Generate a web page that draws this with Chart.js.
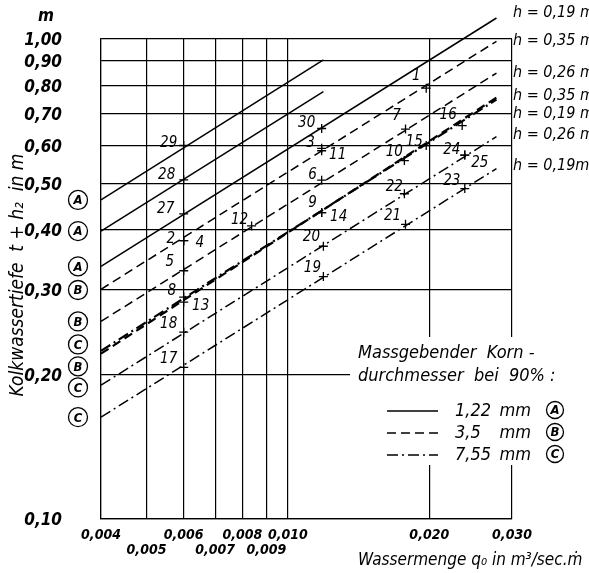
<!DOCTYPE html>
<html>
<head>
<meta charset="utf-8">
<script src="https://cdn.jsdelivr.net/npm/chart.js@4.4.1/dist/chart.umd.min.js"></script>
<style>
  html, body { margin: 0; padding: 0; background: #fff; }
  #wrap { width: 589px; height: 573px; position: relative; }
</style>
</head>
<body>
<div id="wrap"><canvas id="chart" width="589" height="573"></canvas></div>
<script>
// axis ticks
var xTicks = [0.004, 0.005, 0.006, 0.007, 0.008, 0.009, 0.010, 0.020, 0.030];
var xTickLabels = ['0,004', '0,005', '0,006', '0,007', '0,008', '0,009', '0,010', '0,020', '0,030'];
var xTickRow = [0, 1, 0, 1, 0, 1, 0, 0, 0];
var yTicks = [0.1, 0.2, 0.3, 0.4, 0.5, 0.6, 0.7, 0.8, 0.9, 1.0];
var yTickLabels = ['0,10', '0,20', '0,30', '0,40', '0,50', '0,60', '0,70', '0,80', '0,90', '1,00'];

// the nine lines (grain A/B/C, water height h), start and end
var lineGrain = ['A', 'A', 'A', 'B', 'B', 'B', 'C', 'C', 'C'];
var lineH = ['0,35', '0,26', '0,19', '0,35', '0,26', '0,19', '0,35', '0,26', '0,19'];
var lineStartQ = [0.004, 0.004, 0.004, 0.004, 0.004, 0.004, 0.004, 0.004, 0.004];
var lineStartT = [0.462, 0.398, 0.336, 0.301, 0.258, 0.221, 0.224, 0.190, 0.163];
var lineEndQ = [0.0119, 0.0119, 0.0278, 0.0278, 0.0278, 0.0278, 0.0278, 0.0278, 0.0278];
var lineEndT = [0.905, 0.777, 1.106, 0.989, 0.849, 0.755, 0.748, 0.626, 0.537];

// measured points
var pointIds = ['1', '2', '3', '4', '5', '6', '7', '8', '9', '10', '11', '12', '13', '14', '15',
                '16', '17', '18', '19', '20', '21', '22', '23', '24', '25', '27', '28', '29', '30'];
var pointQ = [0.0197, 0.006, 0.0118, 0.006, 0.006, 0.0118, 0.0178, 0.006, 0.0118, 0.0177, 0.0118, 0.00837, 0.006, 0.0118, 0.0197,
              0.0235, 0.006, 0.006, 0.0119, 0.0119, 0.0178, 0.0177, 0.0238, 0.0238, 0.0238, 0.006, 0.006, 0.006, 0.0118];
var pointT = [0.79, 0.38, 0.592, 0.38, 0.329, 0.508, 0.649, 0.29, 0.435, 0.558, 0.585, 0.408, 0.283, 0.435, 0.60,
              0.66, 0.207, 0.245, 0.32, 0.37, 0.411, 0.476, 0.488, 0.573, 0.573, 0.432, 0.509, 0.60, 0.651];

// circled grain letters at the left, right-hand h labels
var leftMarks = ['A', 'A', 'A', 'B', 'B', 'C', 'B', 'C', 'C'];
var leftMarkT = [0.462, 0.398, 0.336, 0.30, 0.258, 0.231, 0.208, 0.188, 0.163];
var rightLabels = ['h = 0,19 m', 'h = 0,35 m', 'h = 0,26 m', 'h = 0,35 m', 'h = 0,19 m', 'h = 0,26 m', 'h = 0,19m'];
var rightLabelT = [1.133, 0.990, 0.849, 0.763, 0.700, 0.630, 0.543];

var grainNames = ['1,22', '3,5', '7,55'];

var FONT = "'DejaVu Sans Condensed', 'DejaVu Sans', sans-serif";
var dashFor = { A: [], B: [9, 5], C: [11, 4, 2, 4] };

// label offsets of the point numbers (px from the marker)
var labelOffset = {
  '1': [-10, -12], '2': [-13, -2], '3': [-11, -5], '4': [16, 2], '5': [-14, -9], '6': [-9, -5],
  '7': [-9, -13], '8': [-12, -6], '9': [-9, -9], '10': [-10, -9], '11': [16, 4], '12': [-12, -6],
  '13': [17, 4], '14': [17, 5], '15': [-12, -3], '16': [-14, -11], '17': [-15, -8], '18': [-15, -8],
  '19': [-11, -8], '20': [-12, -9], '21': [-13, -8], '22': [-10, -7], '23': [-13, -7], '24': [-13, -5],
  '25': [15, 8], '27': [-18, -5], '28': [-17, -5], '29': [-15, -2], '30': [-15, -5]
};

var datasets = [];
for (var i = 0; i < lineGrain.length; i++) {
  var heavy = (i === 5 || i === 6);
  datasets.push({
    label: lineGrain[i] + ' h=' + lineH[i],
    data: [{ x: lineStartQ[i], y: lineStartT[i] }, { x: lineEndQ[i], y: lineEndT[i] }],
    showLine: true,
    borderColor: '#000',
    borderWidth: heavy ? 2.2 : 1.5,
    borderDash: dashFor[lineGrain[i]],
    pointRadius: 0,
    clip: false
  });
}
datasets.push({
  label: 'Messpunkte',
  data: pointIds.map(function (id, k) { return { x: pointQ[k], y: pointT[k] }; }),
  showLine: false,
  pointStyle: 'cross',
  pointRadius: 4.5,
  pointBorderWidth: 1.3,
  borderColor: '#000',
  clip: false
});

function circled(ctx, x, y, letter, r) {
  ctx.save();
  ctx.lineWidth = 1.3;
  ctx.setLineDash([]);
  ctx.beginPath();
  ctx.arc(x, y, r, 0, Math.PI * 2);
  ctx.stroke();
  ctx.font = 'italic bold 13px ' + FONT;
  ctx.textAlign = 'center';
  ctx.textBaseline = 'middle';
  ctx.fillText(letter, x, y + 1);
  ctx.restore();
}

var extras = {
  id: 'extras',
  afterDraw: function (chart) {
    var ctx = chart.ctx, xs = chart.scales.x, ys = chart.scales.y;
    ctx.save();
    ctx.fillStyle = '#000';
    ctx.strokeStyle = '#000';
    ctx.textBaseline = 'middle';

    // y tick labels
    ctx.font = 'italic bold 17px ' + FONT;
    ctx.textAlign = 'right';
    yTicks.forEach(function (v, k) {
      ctx.fillText(yTickLabels[k], 62, ys.getPixelForValue(v) + 2);
    });

    // point numbers
    ctx.font = 'italic 15px ' + FONT;
    ctx.textAlign = 'center';
    pointIds.forEach(function (id, k) {
      var off = labelOffset[id] || [-12, -6];
      ctx.fillText(id, xs.getPixelForValue(pointQ[k]) + off[0], ys.getPixelForValue(pointT[k]) + off[1]);
    });

    // circled letters left
    leftMarks.forEach(function (m, k) {
      circled(ctx, 78, ys.getPixelForValue(leftMarkT[k]), m, 9.5);
    });

    // h labels right
    ctx.font = 'italic 16px ' + FONT;
    ctx.textAlign = 'left';
    rightLabels.forEach(function (t, k) {
      ctx.fillText(t, 513, ys.getPixelForValue(rightLabelT[k]));
    });

    // unit above y labels
    ctx.font = 'italic bold 17px ' + FONT;
    ctx.textAlign = 'center';
    ctx.fillText('m', 46, 17);

    // y axis title
    ctx.save();
    ctx.translate(18, 275);
    ctx.rotate(-Math.PI / 2);
    ctx.font = 'italic 19px ' + FONT;
    ctx.fillText('Kolkwassertiefe  t + h\u2082  in m', 0, 0);
    ctx.restore();

    // x axis title
    ctx.font = 'italic 17px ' + FONT;
    ctx.textAlign = 'left';
    ctx.fillText('Wassermenge q\u2080 in m\u00b3/sec.\u1e41', 358, 561);

    // legend box
    ctx.fillStyle = '#fff';
    ctx.fillRect(350, 337, 239, 128);
    ctx.fillStyle = '#000';
    ctx.font = 'italic 18px ' + FONT;
    ctx.fillText('Massgebender  Korn -', 358, 353);
    ctx.fillText('durchmesser  bei  90% :', 358, 376);
    var rows = [411, 433, 455];
    ['A', 'B', 'C'].forEach(function (g, k) {
      ctx.save();
      ctx.lineWidth = 1.5;
      ctx.setLineDash(dashFor[g]);
      ctx.beginPath();
      ctx.moveTo(387, rows[k]);
      ctx.lineTo(438, rows[k]);
      ctx.stroke();
      ctx.restore();
      ctx.textAlign = 'left';
      ctx.fillText(grainNames[k], 455, rows[k]);
      ctx.textAlign = 'right';
      ctx.fillText('mm', 531, rows[k]);
      circled(ctx, 555, rows[k] - 1, g, 8.5);
    });
    ctx.restore();
  }
};

new Chart(document.getElementById('chart'), {
  type: 'scatter',
  data: { datasets: datasets },
  plugins: [extras],
  options: {
    responsive: false,
    animation: false,
    layout: { padding: { left: 0, right: 77, top: 39, bottom: 0 } },
    plugins: { legend: { display: false }, tooltip: { enabled: false } },
    scales: {
      x: {
        type: 'logarithmic',
        min: 0.004,
        max: 0.030,
        afterBuildTicks: function (s) { s.ticks = xTicks.map(function (v) { return { value: v }; }); },
        afterFit: function (s) { s.height = 54; },
        grid: { color: '#000', lineWidth: 1.2, drawTicks: false },
        border: { color: '#000', width: 1.2 },
        ticks: {
          autoSkip: false, maxRotation: 0, minRotation: 0, padding: 9, color: '#000',
          font: { family: FONT, size: 14, style: 'italic', weight: 'bold', lineHeight: 1.05 },
          callback: function (v, i) { return xTickRow[i] ? ['', xTickLabels[i]] : xTickLabels[i]; }
        }
      },
      y: {
        type: 'logarithmic',
        min: 0.1,
        max: 1.0,
        afterBuildTicks: function (s) { s.ticks = yTicks.map(function (v) { return { value: v }; }); },
        afterFit: function (s) { s.width = 101; },
        grid: { color: '#000', lineWidth: 1.2, drawTicks: false },
        border: { color: '#000', width: 1.2 },
        ticks: { display: false }
      }
    }
  }
});
</script>
</body>
</html>
